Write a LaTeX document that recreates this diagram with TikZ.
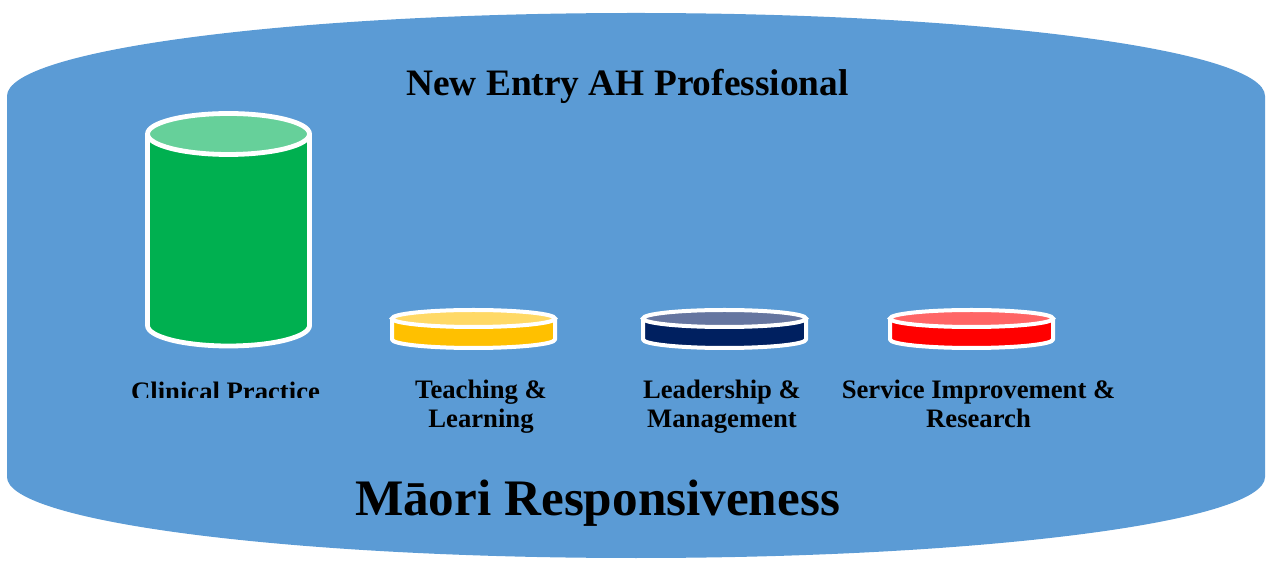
\documentclass[tikz,border=0pt]{standalone}
\usepackage{fontspec}
\setmainfont{Liberation Serif}
\definecolor{tubblue}{HTML}{5B9BD5}
\definecolor{cpgreen}{HTML}{00B050}
\definecolor{cpgreentop}{HTML}{66D09A}
\definecolor{tlyellow}{HTML}{FFC000}
\definecolor{tlyellowtop}{HTML}{FFD966}
\definecolor{lmnavy}{HTML}{002060}
\definecolor{lmnavytop}{HTML}{6676A0}
\definecolor{sired}{HTML}{FF0000}
\definecolor{siredtop}{HTML}{FF6666}
% #1 cx, #2 top cy, #3 bottom cy, #4 rx, #5 ry, #6 side colour, #7 top colour, #8 line width
\newcommand\drawdrum[8]{%
  \fill[#6] ({#1-#4},#2) -- ({#1-#4},#3)
     arc[start angle=180,end angle=360,x radius=#4,y radius=#5] -- ({#1+#4},#2) -- cycle;
  \draw[white,line width=#8,line join=round] ({#1-#4},#2) -- ({#1-#4},#3)
     arc[start angle=180,end angle=360,x radius=#4,y radius=#5] -- ({#1+#4},#2);
  \filldraw[fill=#7,draw=white,line width=#8] (#1,#2) ellipse[x radius=#4,y radius=#5];
}
\tikzset{
  titletext/.style={font=\fontsize{28}{32}\selectfont\bfseries,text=black,inner sep=0pt,anchor=base},
  bigtext/.style={font=\fontsize{38.4}{44}\selectfont\bfseries,text=black,inner sep=0pt,anchor=base},
  labeltext/.style={font=\fontsize{20}{22}\selectfont\bfseries,text=black,inner sep=0pt,anchor=base,align=center},
}
\begin{document}
\begin{tikzpicture}[x=0.75pt,y=0.75pt]
\useasboundingbox (0,0) rectangle (1266,560);
% big blue tube
\fill[tubblue] (7,464) arc[start angle=180,end angle=0,x radius=629,y radius=83]
   -- (1265,83) arc[start angle=0,end angle=-180,x radius=629,y radius=81] -- cycle;
% drums
\drawdrum{228.5}{426}{234.5}{81}{20.5}{cpgreen}{cpgreentop}{3.6pt}
\drawdrum{473.5}{241.5}{220.5}{81.5}{8.5}{tlyellow}{tlyellowtop}{3pt}
\drawdrum{724.5}{241.5}{220.5}{81.5}{8.5}{lmnavy}{lmnavytop}{3pt}
\drawdrum{971.5}{241.5}{220.5}{81.5}{8.5}{sired}{siredtop}{3pt}
% texts
\node[titletext] (title) at (627.5,464) {New Entry AH Professional};
\node[bigtext] (maori) at (597.5,45) {Māori Responsiveness};
\begin{scope}
\clip (110,162.5) rectangle (340,200);
\node[labeltext] (clin) at (225.5,159) {Clinical Practice};
\end{scope}
\node[labeltext] (teach) at (481,132) {Teaching \&\\Learning};
\node[labeltext] (lead) at (722,132) {Leadership \&\\Management};
\node[labeltext] (serv) at (978.5,132) {Service Improvement \&\\Research};
\end{tikzpicture}
\end{document}
